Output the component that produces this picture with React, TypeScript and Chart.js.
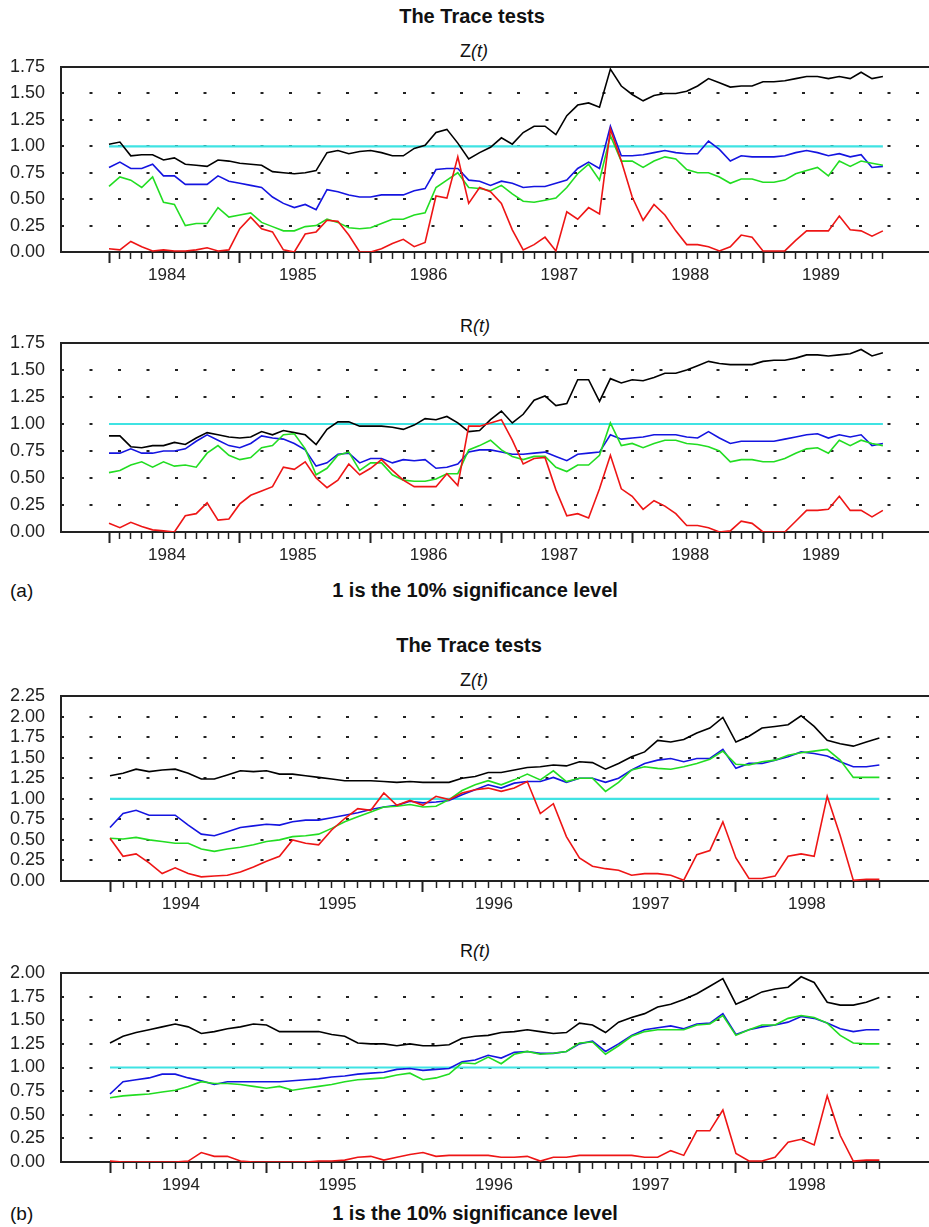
import React, { useEffect, useRef } from 'react';
import { Chart, registerables } from 'chart.js';

Chart.register(...registerables);

// ---------------- data ----------------
const YEARS_A = ['1984', '1985', '1986', '1987', '1988', '1989'];
const YEARS_B = ['1994', '1995', '1996', '1997', '1998'];
const Y_TICKS_A = [0, 0.25, 0.5, 0.75, 1.0, 1.25, 1.5, 1.75];
const Y_TICKS_BZ = [0, 0.25, 0.5, 0.75, 1.0, 1.25, 1.5, 1.75, 2.0, 2.25];
const Y_TICKS_BR = [0, 0.25, 0.5, 0.75, 1.0, 1.25, 1.5, 1.75, 2.0];
const SIGNIFICANCE_LEVEL = 1;

// Panel (a), Z(t) — monthly, Jan 1984 .. Dec 1989
const A_Z_BLACK = [1.02,1.04,0.91,0.92,0.92,0.87,0.89,0.83,0.82,0.81,0.87,0.86,0.84,0.83,0.82,0.76,0.75,0.74,0.75,0.77,0.94,0.96,0.93,0.95,0.96,0.94,0.91,0.91,0.98,1.01,1.13,1.16,1.03,0.88,0.94,0.99,1.08,1.02,1.13,1.19,1.19,1.11,1.29,1.39,1.41,1.37,1.73,1.57,1.49,1.43,1.48,1.50,1.50,1.52,1.57,1.64,1.60,1.56,1.57,1.57,1.61,1.61,1.62,1.64,1.66,1.66,1.64,1.66,1.64,1.70,1.64,1.66];
const A_Z_BLUE = [0.80,0.85,0.79,0.79,0.83,0.72,0.72,0.64,0.64,0.64,0.72,0.67,0.65,0.63,0.61,0.52,0.46,0.42,0.45,0.40,0.59,0.57,0.54,0.52,0.52,0.54,0.54,0.54,0.58,0.60,0.78,0.79,0.79,0.68,0.67,0.63,0.67,0.65,0.61,0.62,0.62,0.65,0.68,0.79,0.85,0.79,1.19,0.91,0.91,0.92,0.94,0.96,0.94,0.93,0.93,1.05,0.97,0.86,0.91,0.90,0.90,0.90,0.91,0.94,0.96,0.94,0.91,0.93,0.90,0.92,0.80,0.81];
const A_Z_GREEN = [0.62,0.71,0.68,0.61,0.71,0.47,0.45,0.25,0.27,0.27,0.42,0.33,0.35,0.37,0.28,0.24,0.20,0.20,0.24,0.25,0.31,0.28,0.23,0.22,0.23,0.27,0.31,0.31,0.35,0.37,0.61,0.68,0.75,0.61,0.60,0.58,0.63,0.55,0.48,0.47,0.49,0.51,0.61,0.74,0.83,0.68,1.10,0.86,0.86,0.80,0.86,0.90,0.88,0.78,0.75,0.75,0.71,0.65,0.69,0.69,0.66,0.66,0.68,0.74,0.77,0.80,0.72,0.86,0.81,0.86,0.84,0.82];
const A_Z_RED = [0.03,0.02,0.10,0.05,0.01,0.02,0.01,0.01,0.02,0.04,0.01,0.02,0.22,0.33,0.22,0.19,0.02,0.00,0.17,0.19,0.30,0.29,0.16,0.00,0.00,0.03,0.08,0.12,0.05,0.09,0.53,0.51,0.90,0.46,0.61,0.57,0.46,0.21,0.02,0.07,0.14,0.01,0.38,0.31,0.42,0.36,1.16,0.86,0.52,0.30,0.45,0.35,0.20,0.07,0.07,0.05,0.01,0.05,0.16,0.14,0.01,0.01,0.01,0.11,0.20,0.20,0.20,0.34,0.21,0.20,0.15,0.20];

// Panel (a), R(t)
const A_R_BLACK = [0.89,0.89,0.79,0.78,0.80,0.80,0.83,0.81,0.87,0.92,0.90,0.88,0.87,0.88,0.93,0.90,0.94,0.92,0.90,0.81,0.95,1.02,1.02,0.98,0.98,0.98,0.97,0.95,0.99,1.05,1.04,1.07,1.01,0.93,0.94,1.04,1.12,1.01,1.09,1.22,1.26,1.17,1.19,1.41,1.41,1.21,1.42,1.38,1.41,1.40,1.43,1.47,1.47,1.50,1.54,1.58,1.56,1.55,1.55,1.55,1.58,1.59,1.59,1.61,1.64,1.64,1.63,1.64,1.65,1.69,1.63,1.66];
const A_R_BLUE = [0.73,0.73,0.77,0.73,0.73,0.75,0.75,0.77,0.84,0.90,0.85,0.80,0.78,0.82,0.89,0.87,0.86,0.82,0.76,0.61,0.64,0.72,0.73,0.64,0.68,0.68,0.64,0.67,0.66,0.67,0.59,0.60,0.63,0.74,0.76,0.76,0.74,0.72,0.72,0.73,0.74,0.70,0.66,0.72,0.73,0.74,0.90,0.86,0.87,0.88,0.90,0.90,0.90,0.88,0.87,0.93,0.87,0.82,0.84,0.84,0.84,0.84,0.86,0.88,0.90,0.91,0.87,0.90,0.88,0.90,0.80,0.82];
const A_R_GREEN = [0.55,0.57,0.62,0.65,0.60,0.65,0.61,0.62,0.60,0.73,0.80,0.71,0.67,0.69,0.78,0.80,0.90,0.91,0.77,0.53,0.59,0.71,0.74,0.57,0.64,0.64,0.53,0.48,0.47,0.47,0.49,0.54,0.54,0.76,0.80,0.85,0.76,0.70,0.67,0.70,0.70,0.60,0.56,0.62,0.62,0.71,1.01,0.80,0.82,0.78,0.82,0.85,0.85,0.82,0.81,0.79,0.75,0.65,0.67,0.67,0.65,0.65,0.68,0.73,0.77,0.78,0.73,0.85,0.80,0.85,0.82,0.80];
const A_R_RED = [0.08,0.04,0.09,0.05,0.02,0.01,0.00,0.15,0.17,0.27,0.11,0.12,0.26,0.34,0.38,0.42,0.60,0.58,0.65,0.50,0.41,0.48,0.63,0.53,0.59,0.67,0.57,0.48,0.42,0.42,0.42,0.54,0.43,0.98,0.98,1.01,1.04,0.85,0.63,0.68,0.69,0.39,0.15,0.17,0.13,0.40,0.71,0.40,0.33,0.21,0.29,0.24,0.17,0.06,0.06,0.04,0.00,0.01,0.10,0.08,0.00,0.00,0.00,0.10,0.20,0.20,0.21,0.33,0.20,0.20,0.14,0.20];

// Panel (b), Z(t) — monthly, Jan 1994 .. Dec 1998
const B_Z_BLACK = [1.28,1.31,1.36,1.33,1.35,1.36,1.31,1.24,1.24,1.29,1.34,1.33,1.34,1.30,1.30,1.28,1.26,1.24,1.22,1.22,1.22,1.21,1.20,1.21,1.20,1.20,1.20,1.25,1.27,1.32,1.32,1.35,1.38,1.39,1.41,1.40,1.45,1.44,1.36,1.43,1.51,1.57,1.71,1.69,1.72,1.80,1.86,1.99,1.69,1.76,1.86,1.88,1.90,2.01,1.88,1.71,1.67,1.64,1.69,1.74];
const B_Z_BLUE = [0.65,0.82,0.86,0.80,0.80,0.80,0.68,0.57,0.55,0.60,0.65,0.67,0.69,0.68,0.72,0.74,0.74,0.77,0.80,0.83,0.87,0.90,0.92,0.97,0.95,0.96,0.98,1.05,1.11,1.17,1.13,1.19,1.21,1.21,1.26,1.20,1.25,1.25,1.20,1.25,1.35,1.43,1.47,1.49,1.45,1.49,1.49,1.60,1.37,1.43,1.43,1.47,1.51,1.57,1.55,1.52,1.45,1.39,1.39,1.41];
const B_Z_GREEN = [0.52,0.51,0.53,0.50,0.48,0.46,0.46,0.39,0.36,0.39,0.41,0.44,0.48,0.50,0.54,0.55,0.57,0.64,0.72,0.78,0.84,0.90,0.91,0.93,0.90,0.91,0.99,1.10,1.17,1.22,1.17,1.23,1.30,1.23,1.34,1.21,1.25,1.25,1.09,1.20,1.35,1.39,1.37,1.36,1.39,1.43,1.48,1.58,1.42,1.41,1.45,1.47,1.53,1.56,1.58,1.60,1.47,1.26,1.26,1.26];
const B_Z_RED = [0.52,0.30,0.33,0.22,0.09,0.16,0.09,0.05,0.06,0.07,0.11,0.17,0.24,0.30,0.50,0.46,0.44,0.62,0.76,0.88,0.86,1.07,0.92,0.98,0.92,1.03,0.99,1.07,1.11,1.13,1.09,1.13,1.21,0.82,0.94,0.54,0.28,0.18,0.15,0.13,0.07,0.09,0.09,0.07,0.01,0.32,0.37,0.72,0.28,0.03,0.03,0.06,0.30,0.33,0.30,1.03,0.55,0.01,0.02,0.02];

// Panel (b), R(t)
const B_R_BLACK = [1.26,1.33,1.37,1.40,1.43,1.46,1.43,1.36,1.38,1.41,1.43,1.46,1.45,1.38,1.38,1.38,1.38,1.35,1.33,1.26,1.25,1.25,1.23,1.25,1.23,1.23,1.24,1.31,1.33,1.34,1.37,1.38,1.40,1.38,1.36,1.37,1.47,1.45,1.37,1.48,1.53,1.57,1.64,1.67,1.72,1.78,1.86,1.94,1.67,1.73,1.80,1.83,1.85,1.96,1.90,1.69,1.66,1.66,1.69,1.74];
const B_R_BLUE = [0.72,0.85,0.87,0.89,0.93,0.93,0.89,0.86,0.82,0.85,0.85,0.85,0.85,0.85,0.86,0.87,0.88,0.90,0.91,0.93,0.94,0.95,0.98,0.99,0.97,0.98,0.99,1.06,1.08,1.13,1.10,1.16,1.17,1.15,1.15,1.17,1.25,1.28,1.17,1.25,1.34,1.40,1.42,1.44,1.41,1.46,1.47,1.57,1.35,1.40,1.43,1.45,1.48,1.54,1.52,1.47,1.41,1.38,1.40,1.40];
const B_R_GREEN = [0.68,0.70,0.71,0.72,0.74,0.76,0.80,0.85,0.83,0.83,0.82,0.80,0.78,0.80,0.76,0.78,0.80,0.82,0.85,0.87,0.88,0.89,0.92,0.94,0.87,0.89,0.93,1.05,1.04,1.11,1.04,1.14,1.17,1.14,1.15,1.17,1.26,1.27,1.14,1.23,1.33,1.38,1.40,1.40,1.40,1.45,1.46,1.55,1.34,1.40,1.45,1.45,1.52,1.55,1.53,1.47,1.34,1.26,1.25,1.25];
const B_R_RED = [0.01,0.00,0.00,0.00,0.00,0.00,0.01,0.10,0.06,0.06,0.01,0.00,0.00,0.00,0.00,0.00,0.01,0.01,0.02,0.05,0.06,0.02,0.05,0.08,0.10,0.06,0.07,0.07,0.07,0.07,0.05,0.05,0.06,0.01,0.05,0.05,0.07,0.07,0.07,0.07,0.07,0.05,0.05,0.12,0.07,0.33,0.33,0.55,0.09,0.01,0.01,0.05,0.21,0.24,0.18,0.70,0.28,0.01,0.02,0.02];

// ---------------- styling ----------------
const FONT = "'Liberation Sans', Arial, Helvetica, sans-serif";
const INK = '#222222';
const C_BLACK = '#000000';
const C_BLUE = '#1414e0';
const C_GREEN = '#22dd22';
const C_RED = '#ee1515';
const C_CYAN = '#3fe3e3';

type PanelCfg = {
  top: number;
  height: number;
  years: string[];
  yTicks: number[];
  xMin: number;
  xMax: number;
  labelOffset: number;
  black: number[];
  blue: number[];
  green: number[];
  red: number[];
};

function buildConfig(p: PanelCfg): any {
  const n = p.black.length;
  const idx = Array.from({ length: n }, (_, i) => i);
  const yMax = p.yTicks[p.yTicks.length - 1];
  const pts = (arr: number[]) => arr.map((y, i) => ({ x: i, y }));
  const line = (data: { x: number; y: number }[], color: string, order: number, width = 1.6) => ({
    data,
    borderColor: color,
    backgroundColor: color,
    borderWidth: width,
    pointRadius: 0,
    tension: 0,
    fill: false,
    order,
  });
  const isMajor = (ctx: any) => ctx.tick && Math.round(ctx.tick.value) % 12 === 0;
  return {
    type: 'line',
    data: {
      datasets: [
        line(idx.map((i) => ({ x: i, y: SIGNIFICANCE_LEVEL })), C_CYAN, 5, 2.2),
        line(pts(p.black), C_BLACK, 4),
        line(pts(p.blue), C_BLUE, 3),
        line(pts(p.green), C_GREEN, 2),
        line(pts(p.red), C_RED, 1),
      ],
    },
    options: {
      animation: false,
      responsive: false,
      maintainAspectRatio: false,
      layout: { padding: 0 },
      plugins: { legend: { display: false }, tooltip: { enabled: false }, title: { display: false } },
      scales: {
        x: {
          type: 'linear',
          position: 'bottom',
          min: p.xMin,
          max: p.xMax,
          afterBuildTicks: (s: any) => {
            s.ticks = idx.map((v) => ({ value: v }));
          },
          afterFit: (s: any) => {
            s.height = 34;
          },
          ticks: {
            autoSkip: false,
            maxRotation: 0,
            minRotation: 0,
            labelOffset: p.labelOffset,
            padding: 2,
            color: INK,
            font: { family: FONT, size: 17 },
            callback: (v: any) => {
              const k = Math.round(Number(v));
              return k % 12 === 0 ? p.years[k / 12] ?? '' : '';
            },
          },
          grid: {
            display: true,
            drawOnChartArea: false,
            drawTicks: true,
            tickLength: 11,
            tickColor: INK,
            tickWidth: (ctx: any) => (isMajor(ctx) ? 2 : 1.5),
            tickBorderDash: (ctx: any) => (isMajor(ctx) ? [] : [6, 30]),
          },
          border: { display: true, color: INK, width: 2 },
        },
        xTop: {
          type: 'linear',
          axis: 'x',
          position: 'top',
          min: p.xMin,
          max: p.xMax,
          afterFit: (s: any) => {
            s.height = 12;
            s.paddingLeft = 0;
            s.paddingRight = 0;
          },
          ticks: { display: false },
          grid: { display: false, drawTicks: false },
          border: { display: true, color: INK, width: 2 },
        },
        y: {
          type: 'linear',
          position: 'left',
          min: 0,
          max: yMax,
          afterBuildTicks: (s: any) => {
            s.ticks = p.yTicks.map((v) => ({ value: v }));
          },
          afterFit: (s: any) => {
            s.width = 61;
            s.paddingTop = 0;
            s.paddingBottom = 0;
          },
          ticks: {
            autoSkip: false,
            padding: 16,
            color: INK,
            font: { family: FONT, size: 18 },
            callback: (v: any) => Number(v).toFixed(2),
          },
          grid: {
            drawTicks: false,
            color: (ctx: any) => {
              const v = ctx.tick ? ctx.tick.value : 0;
              return v < 0.01 || v > yMax - 0.01 ? 'rgba(0,0,0,0)' : INK;
            },
            lineWidth: 2,
          },
          border: { display: true, color: INK, width: 2, dash: [3, 25.5], dashOffset: 1 },
        },
      },
    },
  };
}

function Panel({ cfg }: { cfg: PanelCfg }) {
  const ref = useRef<HTMLCanvasElement>(null);
  useEffect(() => {
    if (!ref.current) return;
    const chart = new Chart(ref.current, buildConfig(cfg));
    return () => chart.destroy();
  }, []);
  return (
    <canvas
      ref={ref}
      width={929}
      height={cfg.height}
      style={{ position: 'absolute', left: 0, top: cfg.top, width: 929, height: cfg.height }}
    />
  );
}

function Label({ cx, cy, size, bold, children, left }: any) {
  return (
    <div
      style={{
        position: 'absolute',
        left: left !== undefined ? left : cx,
        top: cy,
        transform: left !== undefined ? 'translateY(-50%)' : 'translate(-50%, -50%)',
        fontFamily: FONT,
        fontSize: size,
        fontWeight: bold ? 'bold' : 'normal',
        lineHeight: 1,
        whiteSpace: 'nowrap',
        color: '#111',
      }}
    >
      {children}
    </div>
  );
}

const A_MIN = -48 / 10.9;
const A_MAX = A_MIN + 868 / 10.9;
const B_MIN = -49 / 13.04;
const B_MAX = B_MIN + 868 / 13.04;

const PANELS: PanelCfg[] = [
  { top: 55, height: 231, years: YEARS_A, yTicks: Y_TICKS_A, xMin: A_MIN, xMax: A_MAX, labelOffset: 58, black: A_Z_BLACK, blue: A_Z_BLUE, green: A_Z_GREEN, red: A_Z_RED },
  { top: 331, height: 235, years: YEARS_A, yTicks: Y_TICKS_A, xMin: A_MIN, xMax: A_MAX, labelOffset: 58, black: A_R_BLACK, blue: A_R_BLUE, green: A_R_GREEN, red: A_R_RED },
  { top: 684, height: 231, years: YEARS_B, yTicks: Y_TICKS_BZ, xMin: B_MIN, xMax: B_MAX, labelOffset: 71, black: B_Z_BLACK, blue: B_Z_BLUE, green: B_Z_GREEN, red: B_Z_RED },
  { top: 961, height: 235, years: YEARS_B, yTicks: Y_TICKS_BR, xMin: B_MIN, xMax: B_MAX, labelOffset: 71, black: B_R_BLACK, blue: B_R_BLUE, green: B_R_GREEN, red: B_R_RED },
];

export default function App() {
  return (
    <div style={{ position: 'absolute', left: 0, top: 0, width: 929, height: 1227, background: '#fff', overflow: 'hidden' }}>
      <Label cx={472} cy={16} size={20} bold>The Trace tests</Label>
      <Label cx={474} cy={51} size={18}>Z<i>(t)</i></Label>
      <Label cx={475} cy={326} size={18}>R<i>(t)</i></Label>
      <Label left={10} cy={590} size={19}>(a)</Label>
      <Label cx={475} cy={590} size={20} bold>1 is the 10% significance level</Label>

      <Label cx={469} cy={645} size={20} bold>The Trace tests</Label>
      <Label cx={474} cy={680} size={18}>Z<i>(t)</i></Label>
      <Label cx={475} cy={951} size={18}>R<i>(t)</i></Label>
      <Label left={10} cy={1213} size={19}>(b)</Label>
      <Label cx={475} cy={1213} size={20} bold>1 is the 10% significance level</Label>

      {PANELS.map((p, i) => (
        <Panel key={i} cfg={p} />
      ))}
    </div>
  );
}
